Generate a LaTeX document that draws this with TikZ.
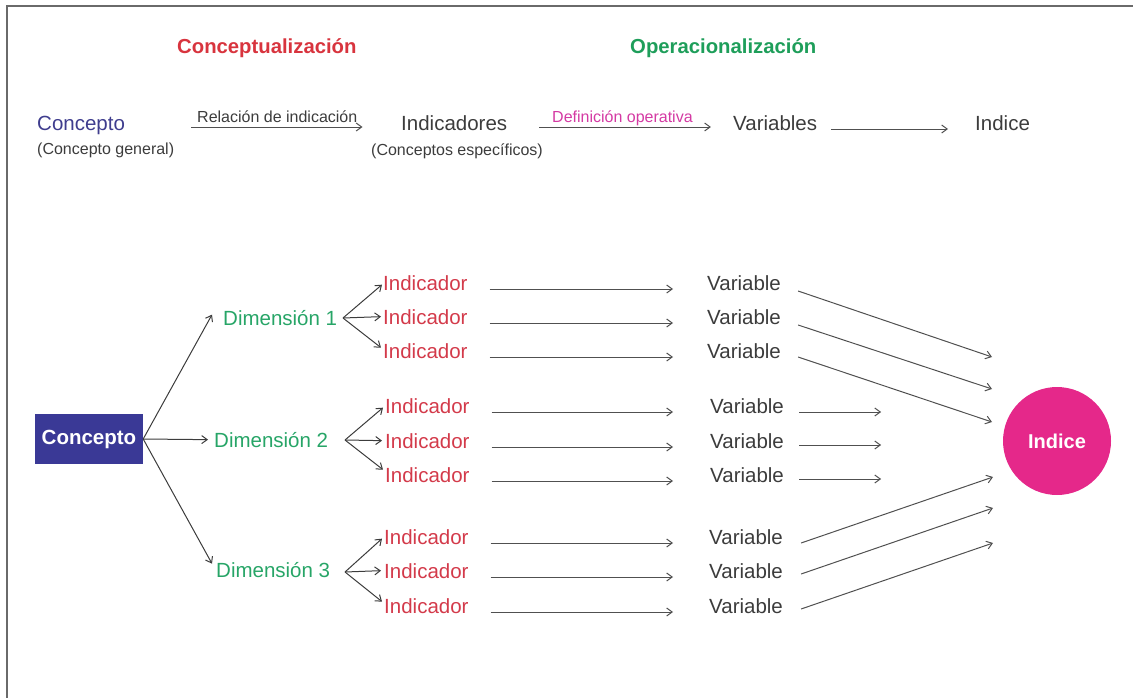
\documentclass[tikz,border=0pt]{standalone}
\usepackage{fontspec}
\setmainfont{Liberation Sans}
\usetikzlibrary{arrows.meta,calc}

\definecolor{headred}{HTML}{D8343E}
\definecolor{headgreen}{HTML}{1E9E5A}
\definecolor{dimgreen}{HTML}{27A567}
\definecolor{indred}{HTML}{D33A4A}
\definecolor{navytext}{HTML}{3F3D8E}
\definecolor{boxblue}{HTML}{3A3996}
\definecolor{idxpink}{HTML}{E5288A}
\definecolor{defmag}{HTML}{D43AA3}
\definecolor{txtgray}{HTML}{3C3C3C}
\definecolor{linegray}{HTML}{505050}
\definecolor{framegray}{HTML}{6A6A6A}

\begin{document}
\begin{tikzpicture}[x=1pt,y=-1pt,
  every node/.style={inner sep=0pt},
  lbl/.style={anchor=base west, text height=14.7pt, text depth=0pt},
  big/.style={font=\fontsize{20.5}{24}\selectfont},
  small/.style={font=\fontsize{16}{19}\selectfont},
  head/.style={font=\fontsize{20.3}{24}\selectfont\bfseries},
  arr/.style={draw=linegray, line width=1pt, -{Straight Barb[length=5.5pt,width=8pt]}},
  fan/.style={arr, draw=txtgray},
  dimlbl/.style={lbl, big, text=dimgreen},
  indlbl/.style={lbl, big, text=indred},
  varlbl/.style={lbl, big, text=txtgray}
]
\useasboundingbox (0,0) rectangle (1134,698);

% frame
\draw[framegray, line width=1.3pt] (7,698) -- (7,6) -- (1133,6);

% ---- headings ----
\node[lbl, head, text=headred]   (hcon) at (177,54) {Conceptualización};
\node[lbl, head, text=headgreen] (hope) at (630,54) {Operacionalización};

% ---- top sequence ----
\node[lbl, big, text=navytext] (tc)   at (37,131)  {Concepto};
\node[lbl, small, text=txtgray] (tcg) at (37,154)  {(Concepto general)};
\node[lbl, big, text=txtgray]  (tind) at (401,130) {Indicadores};
\node[lbl, small, text=txtgray] (tce) at (371,155) {(Conceptos específicos)};
\node[lbl, big, text=txtgray]  (tvar) at (733,130) {Variables};
\node[lbl, big, text=txtgray]  (tidx) at (975,131) {Indice};

\node[lbl, small, text=txtgray] (lrel) at (197,123) {Relación de indicación};
\node[lbl, small, text=defmag]  (ldef) at (552,122) {Definición operativa};

\draw[arr] ([xshift=-6pt,yshift=-4pt]lrel.base west) -- ([xshift=5pt,yshift=-4pt]lrel.base east);
\draw[arr] ([xshift=-13pt,yshift=-5pt]ldef.base west) -- ([xshift=18pt,yshift=-5pt]ldef.base east);
\draw[arr] ([xshift=14pt,yshift=1pt]tvar.base east) -- ([xshift=-27pt,yshift=2pt]tidx.base west);

% ---- concept tree ----
\node[fill=boxblue, minimum width=108pt, minimum height=50pt, text=white,
      font=\fontsize{20.5}{24}\selectfont\bfseries] (cbox) at (89,439) {Concepto};

\node[dimlbl] (d1) at (223,325) {Dimensión 1};
\node[dimlbl] (d2) at (214,447) {Dimensión 2};
\node[dimlbl] (d3) at (216,577) {Dimensión 3};

\draw[fan] (cbox.east) -- ([xshift=-11pt,yshift=3pt]d1.west);
\draw[fan] (cbox.east) -- ([xshift=-6pt]d2.west);
\draw[fan] (cbox.east) -- ([xshift=-4pt,yshift=6pt]d3.west);

% indicators
\node[indlbl] (i1) at (383,290) {Indicador};
\node[indlbl] (i2) at (383,324) {Indicador};
\node[indlbl] (i3) at (383,358) {Indicador};
\node[indlbl] (i4) at (385,413) {Indicador};
\node[indlbl] (i5) at (385,448) {Indicador};
\node[indlbl] (i6) at (385,482) {Indicador};
\node[indlbl] (i7) at (384,544) {Indicador};
\node[indlbl] (i8) at (384,578) {Indicador};
\node[indlbl] (i9) at (384,613) {Indicador};

% variables
\node[varlbl] (v1) at (707,290) {Variable};
\node[varlbl] (v2) at (707,324) {Variable};
\node[varlbl] (v3) at (707,358) {Variable};
\node[varlbl] (v4) at (710,413) {Variable};
\node[varlbl] (v5) at (710,448) {Variable};
\node[varlbl] (v6) at (710,482) {Variable};
\node[varlbl] (v7) at (709,544) {Variable};
\node[varlbl] (v8) at (709,578) {Variable};
\node[varlbl] (v9) at (709,613) {Variable};

% fan hubs next to each dimension
\coordinate (h1) at (343,318);
\coordinate (h2) at (345,440);
\coordinate (h3) at (345,572);

\draw[fan] (h1) -- ([xshift=-1pt,yshift=-2pt]i1.west);
\draw[fan] (h1) -- ([xshift=-2pt]i2.west);
\draw[fan] (h1) -- ([xshift=-2pt,yshift=3pt]i3.west);
\draw[fan] (h2) -- ([xshift=-2pt,yshift=-2pt]i4.west);
\draw[fan] (h2) -- ([xshift=-3pt]i5.west);
\draw[fan] (h2) -- ([xshift=-2pt,yshift=5pt]i6.west);
\draw[fan] (h3) -- ([xshift=-2pt,yshift=-2pt]i7.west);
\draw[fan] (h3) -- ([xshift=-3pt]i8.west);
\draw[fan] (h3) -- ([xshift=-2pt,yshift=4pt]i9.west);

% indicator -> variable
\foreach \k/\e in {1/34,2/34,3/34,4/37,5/37,6/37,7/36,8/36,9/36}
  \draw[arr] ([xshift=22pt,yshift=1pt]i\k.base east) -- ([xshift=-\e pt,yshift=1pt]v\k.base west);

% index
\node[circle, fill=idxpink, minimum size=108pt, text=white,
      font=\fontsize{20}{24}\selectfont\bfseries] (idx) at (1057,441) {Indice};

\coordinate (e1) at ($(idx.center)+(-65,-84)$);
\coordinate (e2) at ($(idx.center)+(-65,-52)$);
\coordinate (e3) at ($(idx.center)+(-65,-19)$);
\coordinate (e7) at ($(idx.center)+(-64,36)$);
\coordinate (e8) at ($(idx.center)+(-64,67)$);
\coordinate (e9) at ($(idx.center)+(-64,102)$);

\draw[arr] ([xshift=17pt,yshift=-1pt]v1.base east) -- (e1);
\draw[arr] ([xshift=17pt,yshift=-1pt]v2.base east) -- (e2);
\draw[arr] ([xshift=17pt,yshift=1pt]v3.base east) -- (e3);
\draw[arr] ([xshift=18pt,yshift=1pt]v7.base east) -- (e7);
\draw[arr] ([xshift=18pt,yshift=4pt]v8.base east) -- (e8);
\draw[arr] ([xshift=18pt,yshift=4pt]v9.base east) -- (e9);

% variables that stop short of the index
\draw[arr] ([xshift=15pt,yshift=1pt]v4.base east) -- ([xshift=97pt,yshift=1pt]v4.base east);
\draw[arr] ([xshift=15pt,yshift=3pt]v5.base east) -- ([xshift=97pt,yshift=3pt]v5.base east);
\draw[arr] ([xshift=15pt,yshift=3pt]v6.base east) -- ([xshift=97pt,yshift=3pt]v6.base east);
\end{tikzpicture}
\end{document}
